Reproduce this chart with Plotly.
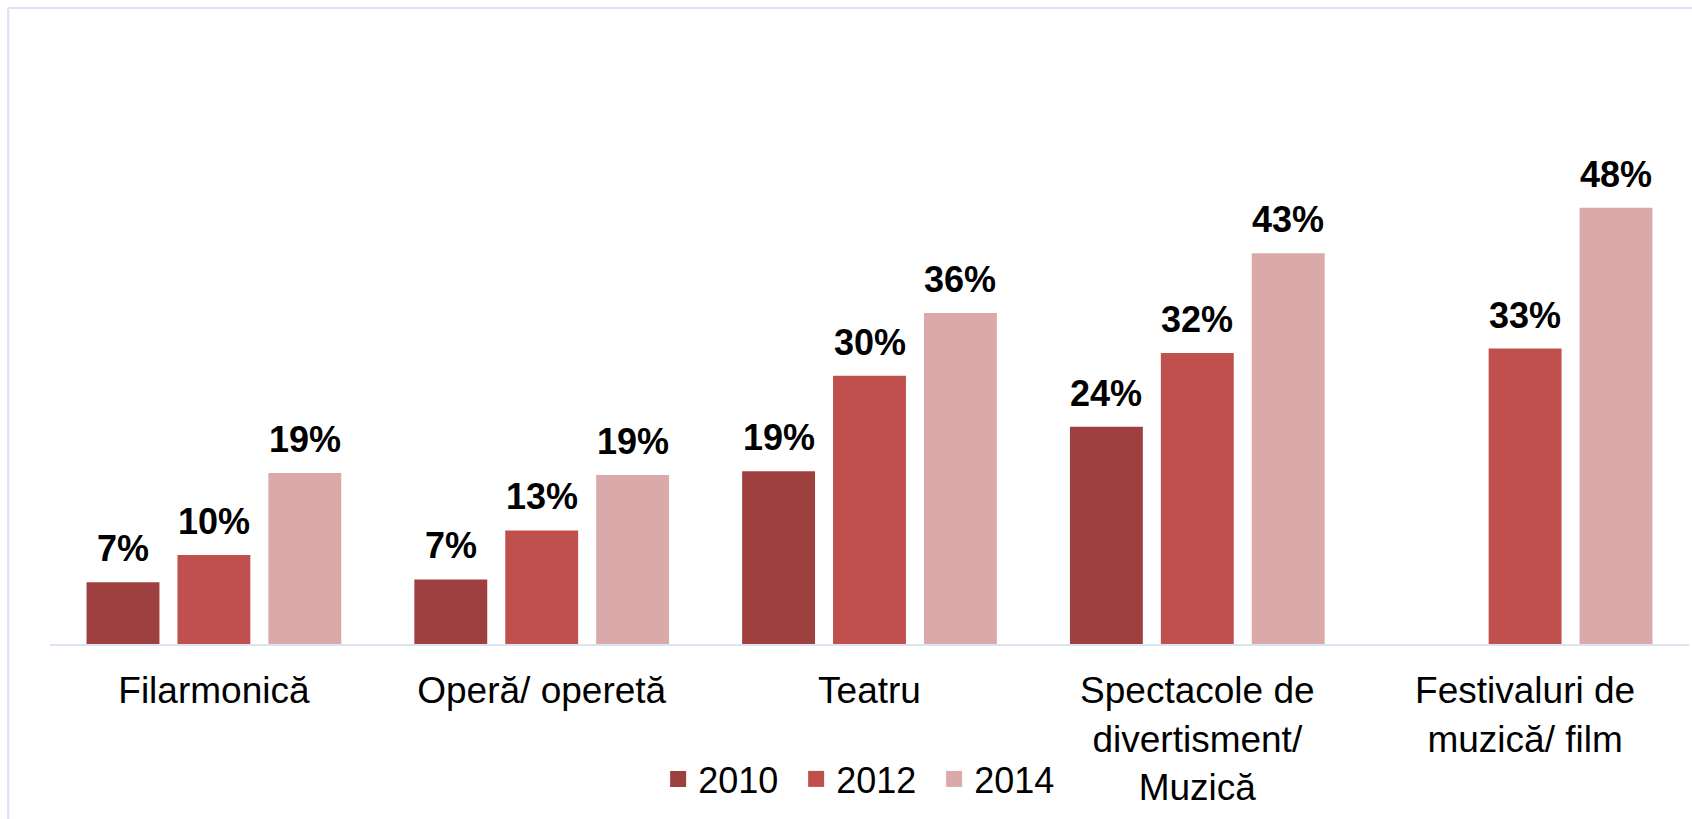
import plotly.graph_objects as go

categories = ["Filarmonică", "Operă/ operetă", "Teatru",
              "Spectacole de<br>divertisment/<br>Muzică",
              "Festivaluri de<br>muzică/ film"]
series_names = ["2010", "2012", "2014"]
values_2010 = [6.8, 7.1, 19.0, 23.9, None]
values_2012 = [9.8, 12.5, 29.5, 32.0, 32.5]
values_2014 = [18.8, 18.6, 36.4, 43.0, 48.0]
labels_2010 = ["7%", "7%", "19%", "24%", None]
labels_2012 = ["10%", "13%", "30%", "32%", "33%"]
labels_2014 = ["19%", "19%", "36%", "43%", "48%"]
colors = ["#9E403F", "#C0504D", "#DAA9A9"]

all_values = [values_2010, values_2012, values_2014]
all_labels = [labels_2010, labels_2012, labels_2014]

W, H = 1692, 819
ML, MR, MT, MB = 49.5, 2.5, 7, 175
plot_w = W - ML - MR
plot_h = H - MT - MB
px_per_unit = 9.09
bargap = 0.168
bargroupgap = 0.198
cat_w = plot_w / len(categories)
slot = cat_w * (1 - bargap) / 3

FONT = "Arial, Liberation Sans, sans-serif"
BORDER = "#D9E3F3"

fig = go.Figure()
for name, vals, col in zip(series_names, all_values, colors):
    fig.add_trace(go.Bar(x=categories, y=vals, name=name,
                         marker=dict(color=col, line=dict(width=0)),
                         showlegend=False, hoverinfo="skip"))
# legend-only entries with square symbols
for name, col in zip(series_names, colors):
    fig.add_trace(go.Scatter(x=[None], y=[None], mode="markers", name=name,
                             marker=dict(symbol="square", size=19, color=col),
                             showlegend=True))

annotations = []
for i, (vals, labs) in enumerate(zip(all_values, all_labels)):
    for c, v, t in zip(categories, vals, labs):
        if v is None:
            continue
        annotations.append(dict(x=c, y=v, text="<b>" + t + "</b>", showarrow=False,
                                xshift=(i - 1) * slot, yshift=11,
                                yanchor="bottom", xanchor="center",
                                font=dict(family=FONT, size=36, color="#000000")))

bx = (7.7 - ML) / plot_w
by = (plot_h - (8 - MT)) / plot_h

fig.update_layout(
    width=W, height=H,
    margin=dict(l=ML, r=MR, t=MT, b=MB, pad=0),
    paper_bgcolor="white", plot_bgcolor="white",
    barmode="group", bargap=bargap, bargroupgap=bargroupgap,
    font=dict(family=FONT, size=36, color="#000000"),
    xaxis=dict(showline=True, linecolor=BORDER, linewidth=2,
               ticks="", showgrid=False, zeroline=False,
               tickfont=dict(family=FONT, size=37, color="#000000"),
               ticklabelstandoff=13,
               range=[-0.5, len(categories) - 0.5], fixedrange=True),
    yaxis=dict(visible=False, range=[0, plot_h / px_per_unit],
               showgrid=False, zeroline=False, fixedrange=True),
    legend=dict(orientation="h", x=(658 - ML) / plot_w, xanchor="left",
                y=(plot_h - (779 - MT)) / plot_h, yanchor="middle",
                font=dict(family=FONT, size=36, color="#000000"),
                bgcolor="rgba(0,0,0,0)", itemwidth=30, entrywidth=93,
                entrywidthmode="pixels"),
    annotations=annotations,
    shapes=[
        dict(type="line", xref="paper", yref="paper",
             x0=bx, x1=1.2, y0=by, y1=by,
             line=dict(color=BORDER, width=2), layer="below"),
        dict(type="line", xref="paper", yref="paper",
             x0=bx, x1=bx, y0=-0.5, y1=by,
             line=dict(color=BORDER, width=2), layer="below"),
    ],
)

fig.write_html("out.html", config={"displayModeBar": False},
               post_script="document.body.style.margin='0';document.body.style.overflow='hidden';")
